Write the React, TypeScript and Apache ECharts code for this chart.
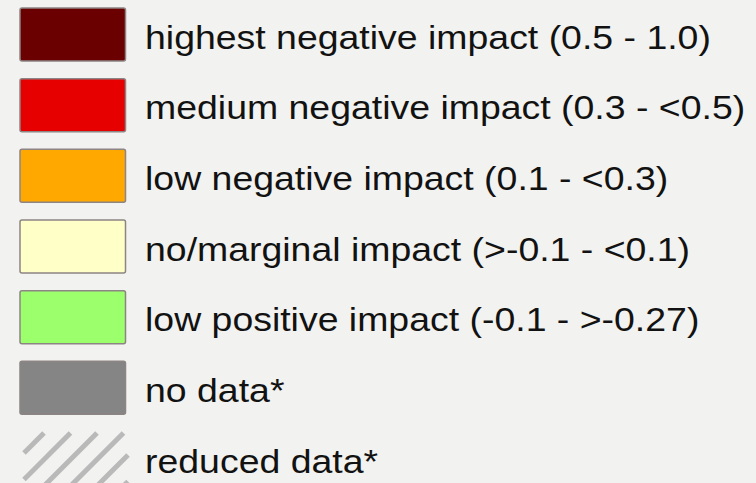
import React, { useEffect, useRef } from "react";
import * as echarts from "echarts";

const labels: string[] = [
  "highest negative impact (0.5 - 1.0)",
  "medium negative impact (0.3 - <0.5)",
  "low negative impact (0.1 - <0.3)",
  "no/marginal impact (>-0.1 - <0.1)",
  "low positive impact (-0.1 - >-0.27)",
  "no data*",
  "reduced data*",
];

const swatchColors: (string | null)[] = [
  "#6b0000",
  "#e60000",
  "#ffa800",
  "#ffffc8",
  "#9cff6c",
  "#858585",
  null, // hatched
];

const hatchColor = "#b9b9b9";

export default function App() {
  const ref = useRef<HTMLDivElement>(null);

  useEffect(() => {
    if (!ref.current) return;
    const chart = echarts.init(ref.current, undefined, { renderer: "svg" });

    const left = 20;
    const swW = 105.5;
    const swH = 53;
    const top0 = 8;
    const pitch = 70.67;
    const textX = 145;
    const fontSize = 32.5;
    const scaleX = 1.152;

    const elements: any[] = [
      {
        type: "rect",
        shape: { x: 0, y: 0, width: 756, height: 483 },
        style: { fill: "#f2f2f0" },
        silent: true,
        z: 0,
      },
    ];

    labels.forEach((label, i) => {
      const top = top0 + pitch * i;
      const color = swatchColors[i];
      if (color) {
        elements.push({
          type: "rect",
          shape: { x: left, y: top, width: swW, height: swH, r: 2 },
          style: { fill: color, stroke: "#8d8484", lineWidth: 1.5 },
          z: 1,
        });
      } else {
        // hatched swatch: 45-degree stripes clipped to the swatch box
        const x0 = left + 4;
        const x1 = left + 108;
        const y0 = top + 1;
        const y1 = top + swH + 2;
        for (let k = -1; k < 8; k++) {
          const c = 477 + 26.5 * k + (top - 432.02);
          const xa = Math.max(x0, c - y1);
          const xb = Math.min(x1, c - y0);
          if (xb - xa < 1) continue;
          elements.push({
            type: "line",
            shape: { x1: xa, y1: c - xa, x2: xb, y2: c - xb },
            style: { stroke: hatchColor, lineWidth: 5, lineCap: "butt" },
            z: 1,
          });
        }
      }
      elements.push({
        type: "text",
        x: textX,
        y: top + swH / 2 + 2.5,
        scaleX: scaleX,
        scaleY: 1,
        style: {
          text: label,
          fill: "#121212",
          fontFamily: "Liberation Sans, Arial, sans-serif",
          fontSize: fontSize,
          align: "left",
          verticalAlign: "middle",
        },
        z: 2,
      });
    });

    chart.setOption({
      animation: false,
      backgroundColor: "#f2f2f0",
      graphic: { elements },
    });

    return () => chart.dispose();
  }, []);

  return (
    <div
      ref={ref}
      style={{ position: "absolute", left: 0, top: 0, width: 756, height: 483 }}
    />
  );
}
